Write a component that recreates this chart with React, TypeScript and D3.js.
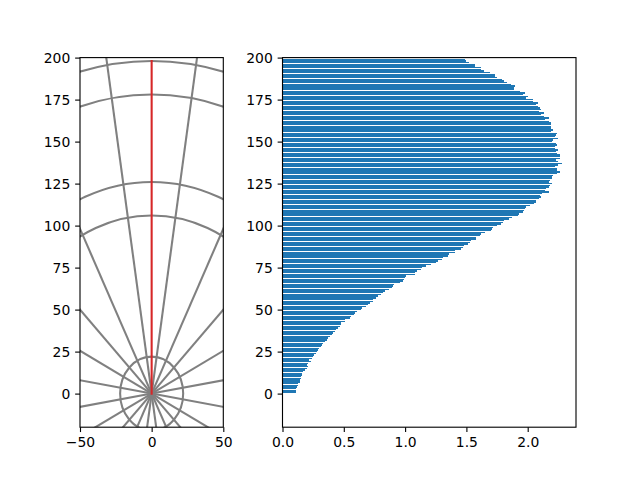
import {
  axisBottom,
  axisLeft,
  format,
  range,
  ScaleLinear,
  scaleLinear,
  select,
} from "d3";
import { useEffect, useRef } from "react";

// left panel: rings and rays (data units), red profile line
const ringRadii = [22, 106, 126, 178, 198];
const rayAngles = [
  9, 27, 45, 63, 81, 99, 117, 135, 153, 171, 189, 207, 225, 243, 261, 279, 297,
  315, 333, 351,
];
const profileLength = 198;

// right panel: profile values, one per radius
const radius = range(1, 201);
const profile = [
  0.11, 0.11, 0.11, 0.12, 0.13, 0.13, 0.14, 0.14, 0.15, 0.15,
  0.16, 0.16, 0.17, 0.18, 0.2, 0.21, 0.2, 0.21, 0.23, 0.22,
  0.24, 0.25, 0.26, 0.27, 0.28, 0.29, 0.3, 0.31, 0.32, 0.33,
  0.35, 0.36, 0.37, 0.39, 0.4, 0.41, 0.43, 0.44, 0.45, 0.47,
  0.48, 0.48, 0.51, 0.51, 0.55, 0.56, 0.58, 0.59, 0.61, 0.64,
  0.65, 0.68, 0.7, 0.71, 0.74, 0.74, 0.76, 0.78, 0.8, 0.82,
  0.84, 0.87, 0.89, 0.9, 0.91, 0.96, 0.98, 0.99, 1.0, 1.01,
  1.08, 1.08, 1.1, 1.13, 1.14, 1.17, 1.21, 1.25, 1.27, 1.3,
  1.31, 1.35, 1.36, 1.41, 1.41, 1.46, 1.47, 1.48, 1.51, 1.53,
  1.54, 1.58, 1.58, 1.61, 1.62, 1.65, 1.7, 1.71, 1.72, 1.75,
  1.78, 1.8, 1.81, 1.85, 1.87, 1.92, 1.93, 1.96, 1.97, 1.98,
  1.99, 2.02, 2.05, 2.07, 2.07, 2.09, 2.11, 2.1, 2.12, 2.17,
  2.14, 2.15, 2.17, 2.18, 2.2, 2.17, 2.18, 2.2, 2.2, 2.21,
  2.24, 2.26, 2.24, 2.24, 2.22, 2.25, 2.28, 2.25, 2.23, 2.26,
  2.26, 2.26, 2.24, 2.23, 2.25, 2.22, 2.22, 2.24, 2.23, 2.2,
  2.21, 2.25, 2.22, 2.23, 2.24, 2.19, 2.21, 2.19, 2.19, 2.19,
  2.19, 2.17, 2.14, 2.17, 2.13, 2.11, 2.13, 2.09, 2.11, 2.1,
  2.08, 2.07, 2.08, 2.04, 2.04, 1.99, 2.0, 1.96, 1.98, 1.94,
  1.89, 1.89, 1.9, 1.86, 1.83, 1.81, 1.79, 1.75, 1.73, 1.73,
  1.69, 1.64, 1.62, 1.62, 1.57, 1.57, 1.52, 1.5, 1.49, 1.48,
];

const yTicks = [0, 25, 50, 75, 100, 125, 150, 175, 200];
const leftXTicks = [-50, 0, 50];
const rightXTicks = [0, 0.5, 1, 1.5, 2];

const FONT = "DejaVu Sans";
const FONT_SIZE = 13.9;
const TICK = 4.86;
const LW = 1.11;

interface AxisProps {
  scale: ScaleLinear<number, number, never>;
  ticks: number[];
  fmt: (v: number) => string;
  transform: string;
}

function styleAxis(g: any) {
  g.select(".domain").remove();
  g.attr("font-family", FONT).attr("font-size", FONT_SIZE);
  g.selectAll(".tick line").attr("stroke", "#000").attr("stroke-width", LW);
  g.selectAll(".tick text").attr("fill", "#000");
}

function AxisBottom({ scale, ticks, fmt, transform }: AxisProps) {
  const ref = useRef<SVGGElement>(null);
  useEffect(() => {
    if (ref.current) {
      select(ref.current)
        .call(
          axisBottom(scale)
            .tickValues(ticks)
            .tickFormat(fmt as any)
            .tickSize(TICK)
            .tickPadding(TICK)
        )
        .call(styleAxis);
    }
  }, [scale]);
  return <g ref={ref} transform={transform} />;
}

function AxisLeft({ scale, ticks, fmt, transform }: AxisProps) {
  const ref = useRef<SVGGElement>(null);
  useEffect(() => {
    if (ref.current) {
      select(ref.current)
        .call(
          axisLeft(scale)
            .tickValues(ticks)
            .tickFormat(fmt as any)
            .tickSize(TICK)
            .tickPadding(TICK)
        )
        .call(styleAxis);
    }
  }, [scale]);
  return <g ref={ref} transform={transform} />;
}

const top = 57.6;
const bottom = 427.2;
const left1 = 80;
const right1 = 223.3;
const left2 = 282.5;
const right2 = 576;

export default function App() {
  const scaleY = scaleLinear().domain([-20, 200]).range([bottom, top]);
  const scaleX1 = scaleLinear().domain([-50, 50]).range([left1, right1]);
  const scaleX2 = scaleLinear()
    .domain([0, Math.max(...profile) * 1.05])
    .range([left2, right2]);

  const x0 = scaleX1(0);
  const y0 = scaleY(0);
  const far = 400;
  const intFmt = format("d");

  return (
    <div style={{ position: "absolute", left: 0, top: 0 }}>
      <svg width={640} height={480} style={{ display: "block", background: "#fff" }}>
        <defs>
          <clipPath id="clip1">
            <rect x={left1} y={top} width={right1 - left1} height={bottom - top} />
          </clipPath>
          <clipPath id="clip2">
            <rect x={left2} y={top} width={right2 - left2} height={bottom - top} />
          </clipPath>
        </defs>

        {/* left panel */}
        <g clipPath="url(#clip1)">
          {rayAngles.map((a) => {
            const t = (a * Math.PI) / 180;
            return (
              <line
                key={`ray-${a}`}
                x1={x0}
                y1={y0}
                x2={scaleX1(far * Math.cos(t))}
                y2={scaleY(far * Math.sin(t))}
                stroke="#808080"
                strokeWidth={2.08}
              />
            );
          })}
          {ringRadii.map((r) => (
            <ellipse
              key={`ring-${r}`}
              cx={x0}
              cy={y0}
              rx={scaleX1(r) - x0}
              ry={y0 - scaleY(r)}
              fill="none"
              stroke="#808080"
              strokeWidth={2.08}
            />
          ))}
          <line
            x1={x0}
            y1={y0}
            x2={x0}
            y2={scaleY(profileLength)}
            stroke="#d62728"
            strokeWidth={2.08}
            strokeLinecap="square"
          />
        </g>
        <rect
          x={left1}
          y={top}
          width={right1 - left1}
          height={bottom - top}
          fill="none"
          stroke="#000"
          strokeWidth={LW}
        />
        <AxisLeft scale={scaleY} ticks={yTicks} fmt={intFmt} transform={`translate(${left1},0)`} />
        <AxisBottom scale={scaleX1} ticks={leftXTicks} fmt={intFmt} transform={`translate(0,${bottom})`} />

        {/* right panel */}
        <g clipPath="url(#clip2)">
          {radius.map((y, i) => {
            const yt = Math.round(scaleY(y + 0.4));
            const yb = Math.round(scaleY(y - 0.4));
            return (
              <rect
                key={`bar-${y}`}
                x={scaleX2(0)}
                y={yt}
                width={scaleX2(profile[i]) - scaleX2(0)}
                height={Math.max(yb - yt, 1)}
                fill="#1f77b4"
                shapeRendering="crispEdges"
              />
            );
          })}
        </g>
        <rect
          x={left2}
          y={top}
          width={right2 - left2}
          height={bottom - top}
          fill="none"
          stroke="#000"
          strokeWidth={LW}
        />
        <AxisLeft scale={scaleY} ticks={yTicks} fmt={intFmt} transform={`translate(${left2},0)`} />
        <AxisBottom scale={scaleX2} ticks={rightXTicks} fmt={format(".1f")} transform={`translate(0,${bottom})`} />
      </svg>
    </div>
  );
}
